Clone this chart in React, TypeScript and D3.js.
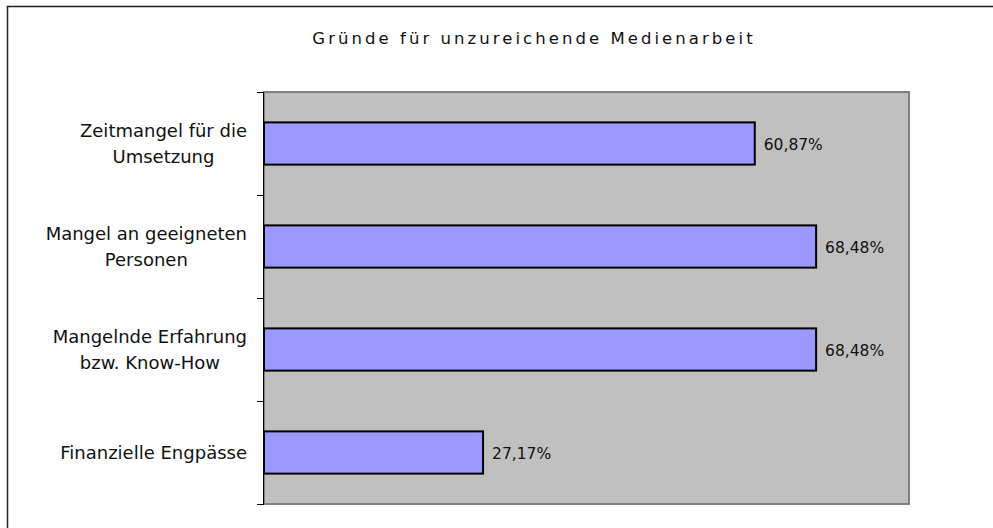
import React, { useEffect, useRef } from "react";
import * as d3 from "d3";

const categories = [
  ["Zeitmangel für die", "Umsetzung"],
  ["Mangel an geeigneten", "Personen"],
  ["Mangelnde Erfahrung", "bzw. Know-How"],
  ["Finanzielle Engpässe"],
];
const values = [60.87, 68.48, 68.48, 27.17];
const valueLabels = ["60,87%", "68,48%", "68,48%", "27,17%"];
const title = "Gründe für unzureichende Medienarbeit";

const W = 993;
const H = 528;
const plot = { left: 264, right: 909, top: 92, bottom: 504 };

const App = () => {
  const svgRef = useRef<SVGSVGElement>(null);

  useEffect(() => {
    const svg = d3.select(svgRef.current);
    svg.selectAll("*").remove();
    const font = "'DejaVu Sans', Verdana, sans-serif";

    // outer chart frame (only top/left visible)
    svg
      .append("rect")
      .attr("x", 7.5)
      .attr("y", 6.5)
      .attr("width", W + 20)
      .attr("height", H + 20)
      .attr("fill", "#fff")
      .attr("stroke", "#222")
      .attr("stroke-width", 1.5);

    svg
      .append("text")
      .attr("x", 534)
      .attr("y", 44)
      .attr("text-anchor", "middle")
      .style("font-family", font)
      .style("font-size", "16.5px")
      .style("letter-spacing", "3.05px")
      .attr("fill", "#111")
      .text(title);

    const x = d3.scaleLinear().domain([0, 80]).range([plot.left, plot.right]);
    const y = d3
      .scaleBand<number>()
      .domain(d3.range(categories.length))
      .range([plot.top, plot.bottom])
      .paddingInner(0.59)
      .paddingOuter(0.295);
    const band = d3
      .scaleBand<number>()
      .domain(d3.range(categories.length))
      .range([plot.top, plot.bottom]);

    svg
      .append("rect")
      .attr("x", plot.left)
      .attr("y", plot.top)
      .attr("width", plot.right - plot.left)
      .attr("height", plot.bottom - plot.top)
      .attr("fill", "#c0c0c0")
      .attr("stroke", "#808080")
      .attr("stroke-width", 2);

    svg
      .selectAll(".bar")
      .data(values)
      .enter()
      .append("rect")
      .attr("class", "bar")
      .attr("x", x(0))
      .attr("y", (_, i) => y(i)!)
      .attr("width", (d) => x(d) - x(0))
      .attr("height", y.bandwidth())
      .attr("fill", "#9999ff")
      .attr("stroke", "#000")
      .attr("stroke-width", 2);

    svg
      .selectAll(".val")
      .data(values)
      .enter()
      .append("text")
      .attr("x", (d) => x(d) + 9)
      .attr("y", (_, i) => y(i)! + y.bandwidth() / 2 + 6)
      .style("font-family", font)
      .style("font-size", "15.5px")
      .attr("fill", "#111")
      .text((_, i) => valueLabels[i]);

    // category axis
    const axis = svg.append("g").attr("stroke", "#000");
    axis
      .append("line")
      .attr("x1", plot.left - 0.5)
      .attr("x2", plot.left - 0.5)
      .attr("y1", plot.top)
      .attr("y2", plot.bottom);
    d3.range(categories.length + 1).forEach((i) => {
      const ty = Math.round(plot.top + i * band.bandwidth()) + 0.5;
      axis
        .append("line")
        .attr("x1", plot.left - 7)
        .attr("x2", plot.left)
        .attr("y1", ty)
        .attr("y2", ty);
    });

    // labels: block right-aligned at labelRight, lines centred inside the block
    const labelRight = 247;
    categories.forEach((lines, i) => {
      const cy = band(i)! + band.bandwidth() / 2;
      const lh = 26;
      const t = svg
        .append("text")
        .attr("text-anchor", "middle")
        .style("font-family", font)
        .style("font-size", "18px")
        .attr("fill", "#111");
      const spans = lines.map((l, j) =>
        t
          .append("tspan")
          .attr("y", cy + 6.5 + (j - (lines.length - 1) / 2) * lh)
          .text(l)
      );
      const maxW = d3.max(spans, (s) => (s.node() as SVGTSpanElement).getComputedTextLength()) || 0;
      spans.forEach((s) => s.attr("x", labelRight - maxW / 2));
    });
  }, []);

  return (
    <svg
      ref={svgRef}
      width={W}
      height={H}
      style={{ position: "absolute", left: 0, top: 0, display: "block" }}
    ></svg>
  );
};

export default App;
